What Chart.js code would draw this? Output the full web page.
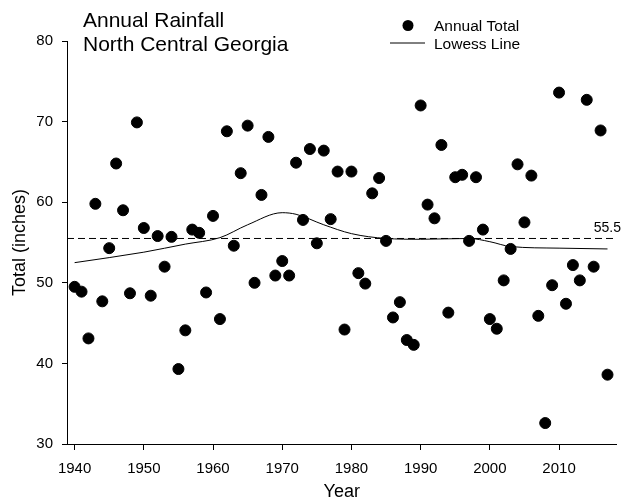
<!DOCTYPE html>
<html>
<head>
<meta charset="utf-8">
<script src="https://cdn.jsdelivr.net/npm/chart.js@4.4.1/dist/chart.umd.min.js"></script>
<style>
  body { margin: 0; background: #fff; }
  canvas { display: block; }
</style>
</head>
<body>
<canvas id="myChart" width="623" height="504"></canvas>
<script>
// annual totals, 1940 - 2017
const years = [];
for (let y = 1940; y <= 2017; y++) years.push(y);

const totals = [
  49.5, 48.9, 43.1, 59.8, 47.7, 54.3, 64.8, 59.0, 48.7, 69.9,
  56.8, 48.4, 55.8, 52.0, 55.7, 39.3, 44.1, 56.6, 56.2, 48.8,
  58.3, 45.5, 68.8, 54.6, 63.6, 69.5, 50.0, 60.9, 68.1, 50.9,
  52.7, 50.9, 64.9, 57.8, 66.6, 54.9, 66.4, 57.9, 63.8, 44.2,
  63.8, 51.2, 49.9, 61.1, 63.0, 55.2, 45.7, 47.6, 42.9, 42.3,
  72.0, 59.7, 58.0, 67.1, 46.3, 63.1, 63.4, 55.2, 63.1, 56.6,
  45.5, 44.3, 50.3, 54.2, 64.7, 57.5, 63.3, 45.9, 32.6, 49.7,
  73.6, 47.4, 52.2, 50.3, 72.7, 52.0, 68.9, 38.6
];

// lowess curve
const lowessYears = [1940, 1950, 1956, 1961, 1965, 1970, 1972, 1976, 1980, 1985, 1990, 1997, 2000, 2003, 2010, 2017];
const lowessVals  = [52.5, 53.8, 54.8, 55.6, 57.2, 58.7, 58.5, 57.2, 56.1, 55.5, 55.4, 55.5, 55.1, 54.5, 54.3, 54.2];

const meanValue = 55.5;

const xMin = 1938.9, xMax = 2018.3;
const yTicks = [30, 40, 50, 60, 70, 80];
const xTicks = [1940, 1950, 1960, 1970, 1980, 1990, 2000, 2010];

const font = 'Arial, "Liberation Sans", sans-serif';

// title, legend and mean label
const extras = {
  id: 'extras',
  afterDraw(chart) {
    const c = chart.ctx;
    const ys = chart.scales.y;
    c.save();
    c.fillStyle = '#000';
    c.textBaseline = 'alphabetic';
    c.textAlign = 'left';
    c.font = '21px ' + font;
    c.fillText('Annual Rainfall', 83, 27);
    c.fillText('North Central Georgia', 83, 51);

    // legend
    c.font = '15.5px ' + font;
    c.beginPath();
    c.arc(408, 25.5, 5.5, 0, Math.PI * 2);
    c.fill();
    c.fillText('Annual Total', 434, 31);
    c.beginPath();
    c.strokeStyle = '#000';
    c.lineWidth = 1;
    c.moveTo(390, 43);
    c.lineTo(425, 43);
    c.stroke();
    c.fillText('Lowess Line', 434, 49);

    // mean label
    c.font = '14px ' + font;
    c.textAlign = 'right';
    c.fillText(meanValue.toFixed(1), 621, ys.getPixelForValue(meanValue) - 6);
    c.restore();
  }
};

const ctx = document.getElementById('myChart');

const myChart = new Chart(ctx, {
  type: 'scatter',
  data: {
    datasets: [
      {
        label: 'Annual Total',
        data: years.map((y, i) => ({ x: y, y: totals[i] })),
        backgroundColor: '#000',
        borderColor: '#000',
        pointRadius: 5.5,
        pointHoverRadius: 5.5,
        order: 1
      },
      {
        label: 'Lowess Line',
        data: lowessYears.map((y, i) => ({ x: y, y: lowessVals[i] })),
        showLine: true,
        borderColor: '#000',
        borderWidth: 1,
        pointRadius: 0,
        cubicInterpolationMode: 'monotone',
        order: 2
      },
      {
        label: 'mean',
        data: [{ x: xMin, y: meanValue }, { x: xMax, y: meanValue }],
        showLine: true,
        borderColor: '#000',
        borderWidth: 1,
        borderDash: [7, 4],
        pointRadius: 0,
        order: 3
      }
    ]
  },
  options: {
    responsive: false,
    animation: false,
    events: [],
    layout: { padding: { top: 41, right: 3, left: 0, bottom: 0 } },
    plugins: {
      legend: { display: false },
      tooltip: { enabled: false }
    },
    scales: {
      x: {
        type: 'linear',
        min: xMin,
        max: xMax,
        afterFit(s) { s.height = 60; },
        afterBuildTicks(s) { s.ticks = xTicks.map(v => ({ value: v })); },
        ticks: {
          color: '#000',
          font: { family: font, size: 15 },
          padding: 10,
          maxRotation: 0,
          includeBounds: false,
          callback: v => String(v)
        },
        grid: { drawOnChartArea: false, drawTicks: true, tickLength: 6, color: '#000' },
        border: { display: true, color: '#000', width: 1 },
        title: {
          display: true,
          text: 'Year',
          color: '#000',
          font: { family: font, size: 18 },
          padding: { top: 0, bottom: 1 }
        }
      },
      y: {
        min: 30,
        max: 80,
        afterFit(s) { s.width = 67; },
        afterBuildTicks(s) { s.ticks = yTicks.map(v => ({ value: v })); },
        ticks: {
          color: '#000',
          font: { family: font, size: 15 },
          padding: 9
        },
        grid: { drawOnChartArea: false, drawTicks: true, tickLength: 5, color: '#000' },
        border: { display: true, color: '#000', width: 1 },
        title: {
          display: true,
          text: 'Total (inches)',
          color: '#000',
          font: { family: font, size: 18 },
          padding: { top: 9, bottom: 0 }
        }
      }
    }
  },
  plugins: [extras]
});
</script>
</body>
</html>
